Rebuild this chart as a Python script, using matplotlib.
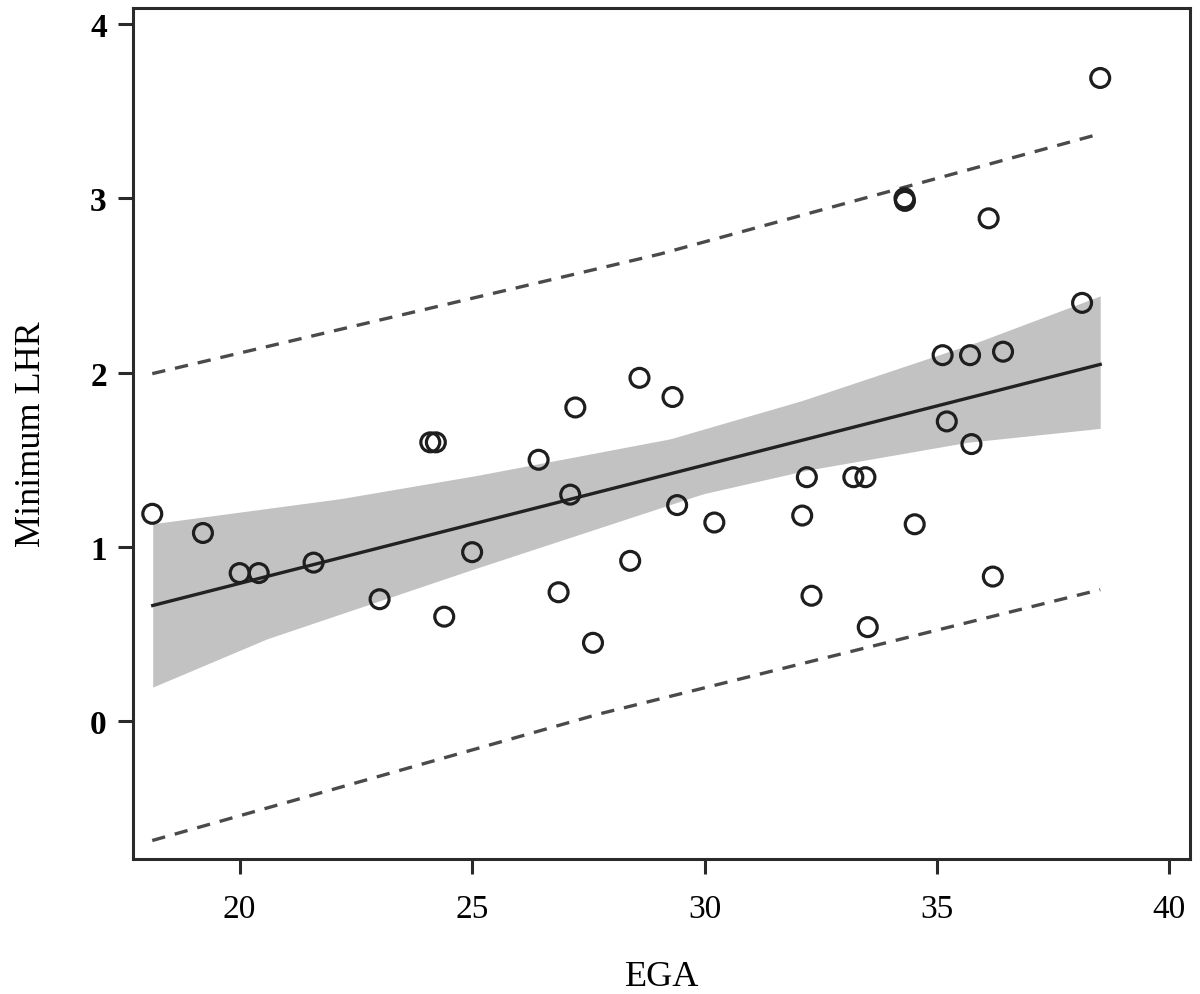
import numpy as np
import matplotlib.pyplot as plt

# observed points (EGA, minimum LHR)
ega = [18.12, 19.21, 20.00, 20.41, 21.59, 23.01, 24.10, 24.22, 24.40, 25.00,
       26.43, 26.86, 27.11, 27.22, 27.60, 28.40, 28.60, 29.31, 29.41, 30.21,
       32.10, 32.20, 32.30, 33.20, 33.46, 33.51, 34.30, 34.31, 34.52, 35.12,
       35.21, 35.71, 35.74, 36.11, 36.20, 36.42, 38.12, 38.51]
lhr = [1.19, 1.08, 0.85, 0.85, 0.91, 0.70, 1.60, 1.60, 0.60, 0.97,
       1.50, 0.74, 1.30, 1.80, 0.45, 0.92, 1.97, 1.86, 1.24, 1.14,
       1.18, 1.40, 0.72, 1.40, 1.40, 0.54, 3.00, 2.985, 1.13, 2.10,
       1.72, 2.10, 1.59, 2.885, 0.83, 2.12, 2.40, 3.69]

# fitted line
fit_x = [18.13, 38.51]
fit_y = [0.664, 2.047]

# confidence band edges
band_up_x = [18.13, 22.17, 25.10, 29.26, 32.10, 35.92, 38.51]
band_up_y = [1.133, 1.277, 1.41, 1.62, 1.84, 2.18, 2.44]
band_lo_x = [18.13, 20.59, 25.00, 29.97, 32.20, 35.65, 38.51]
band_lo_y = [0.196, 0.473, 0.87, 1.305, 1.44, 1.60, 1.68]

# prediction interval
pi_up_x = [18.12, 29.04, 38.51]
pi_up_y = [1.994, 2.68, 3.37]
pi_lo_x = [18.12, 27.75, 38.51]
pi_lo_y = [-0.684, 0.043, 0.755]

xticks = [20, 25, 30, 35, 40]
yticks = [0, 1, 2, 3, 4]

plt.rcParams['font.family'] = ['Liberation Serif', 'DejaVu Serif']

fig = plt.figure(figsize=(12, 9.95), dpi=100)
ax = fig.add_axes([0.111, 0.1357, 0.881, 0.855])

bx = np.linspace(18.13, 38.51, 200)
up = np.interp(bx, band_up_x, band_up_y)
lo = np.interp(bx, band_lo_x, band_lo_y)
ax.fill_between(bx, lo, up, color='#c2c2c2', lw=0, zorder=1)

ax.plot(fit_x, fit_y, color='#222222', lw=2.4, zorder=2)
ax.plot(pi_up_x, pi_up_y, color='#4a4a4a', lw=2.4, dashes=(4, 3), zorder=2)
ax.plot(pi_lo_x, pi_lo_y, color='#4a4a4a', lw=2.4, dashes=(4, 3), zorder=2)

ax.scatter(ega, lhr, s=185, facecolors='none', edgecolors='#1e1e1e',
           linewidths=2.3, zorder=3)

ax.set_xlim(17.71, 40.45)
ax.set_ylim(-0.79, 4.09)
ax.set_xticks(xticks)
ax.set_yticks(yticks)

for s in ax.spines.values():
    s.set_linewidth(2.2)
    s.set_color('#2a2a2a')
ax.tick_params(axis='both', direction='out', length=11, width=2.2,
               color='#2a2a2a', labelsize=24, pad=8)
ax.tick_params(axis='x', pad=14)
for lab in ax.get_yticklabels():
    lab.set_fontweight('bold')

ax.set_xlabel('EGA', fontsize=26, labelpad=26)
ax.set_ylabel('Minimum LHR', fontsize=26, labelpad=30)

fig.savefig('out.png', dpi=100)
